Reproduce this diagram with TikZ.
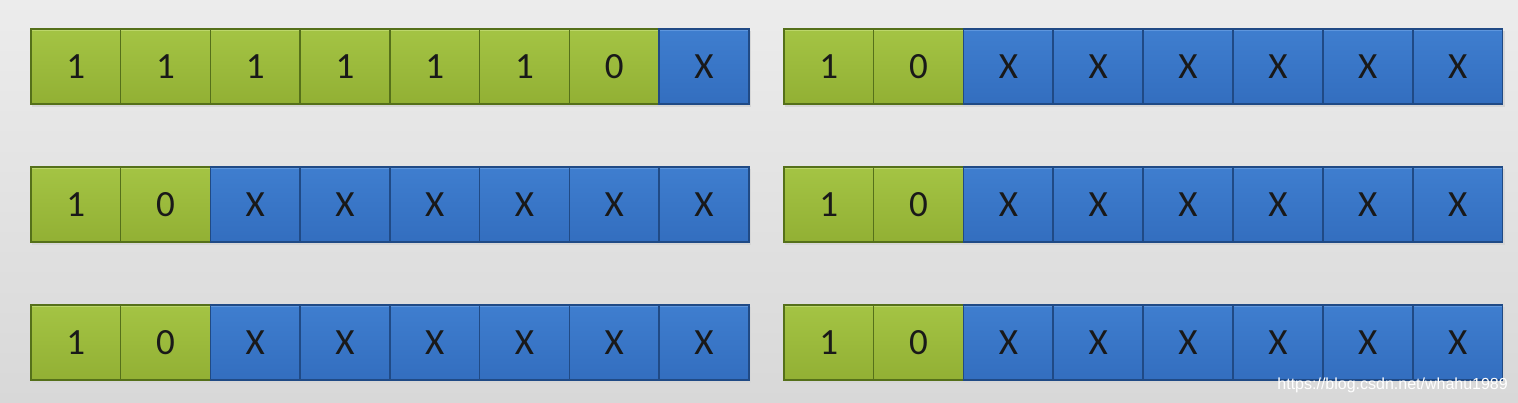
\documentclass[tikz,border=0pt]{standalone}
\usepackage{fontspec}
\setmainfont{Carlito}
\newfontfamily\wmfont{Liberation Sans}
\definecolor{gtop}{HTML}{A4C444}
\definecolor{gbot}{HTML}{92B034}
\definecolor{gline}{HTML}{55701A}
\definecolor{ghi}{HTML}{BCD66A}
\definecolor{btop}{HTML}{3F7ECF}
\definecolor{bbot}{HTML}{336EBF}
\definecolor{bline}{HTML}{204A85}
\definecolor{bhi}{HTML}{5E96DD}
\definecolor{bgtop}{HTML}{ECECEC}
\definecolor{bgbot}{HTML}{D8D8D8}
\tikzset{
  cellbase/.style={anchor=north west, minimum width=89.75pt, minimum height=75pt,
    inner sep=0pt, line width=1.6pt, text=black!90,
    font=\fontsize{37}{37}\selectfont},
  cellg/.style={cellbase, top color=gtop, bottom color=gbot, draw=gline,
    path picture={\draw[ghi, line width=2.5pt]
      ([yshift=-1pt]path picture bounding box.north west) --
      ([yshift=-1pt]path picture bounding box.north east);}},
  cellb/.style={cellbase, top color=btop, bottom color=bbot, draw=bline,
    path picture={\draw[bhi, line width=2.5pt]
      ([yshift=-1pt]path picture bounding box.north west) --
      ([yshift=-1pt]path picture bounding box.north east);}}
}
\begin{document}
\begin{tikzpicture}[x=1pt,y=-1pt]
\shade[top color=bgtop, bottom color=bgbot] (0,0) rectangle (1518,403);
\useasboundingbox (0,0) rectangle (1518,403);
% shadows
\foreach \y in {28,166,304}{
  \fill[black!16] (32,\y+3) rectangle (751,\y+79);
  \fill[black!16] (785,\y+3) rectangle (1505,\y+79);
}
% row 1
\foreach \v/\s [count=\i from 0] in {1/g,1/g,1/g,1/g,1/g,1/g,0/g,X/b}
  \node[cell\s] (L1-\i) at ({30+\i*89.75},28) {\v};
\foreach \v/\s [count=\i from 0] in {1/g,0/g,X/b,X/b,X/b,X/b,X/b,X/b}
  \node[cell\s] (R1-\i) at ({783+\i*89.85},28) {\v};
% row 2
\foreach \v/\s [count=\i from 0] in {1/g,0/g,X/b,X/b,X/b,X/b,X/b,X/b}
  \node[cell\s] (L2-\i) at ({30+\i*89.75},166) {\v};
\foreach \v/\s [count=\i from 0] in {1/g,0/g,X/b,X/b,X/b,X/b,X/b,X/b}
  \node[cell\s] (R2-\i) at ({783+\i*89.85},166) {\v};
% row 3
\foreach \v/\s [count=\i from 0] in {1/g,0/g,X/b,X/b,X/b,X/b,X/b,X/b}
  \node[cell\s] (L3-\i) at ({30+\i*89.75},304) {\v};
\foreach \v/\s [count=\i from 0] in {1/g,0/g,X/b,X/b,X/b,X/b,X/b,X/b}
  \node[cell\s] (R3-\i) at ({783+\i*89.85},304) {\v};
% watermark
\node[anchor=base east, inner sep=0pt, text=white, font=\wmfont\fontsize{16}{16}\selectfont] (wm) at (1508,389) {https://blog.csdn.net/whahu1989};
\end{tikzpicture}
\end{document}
